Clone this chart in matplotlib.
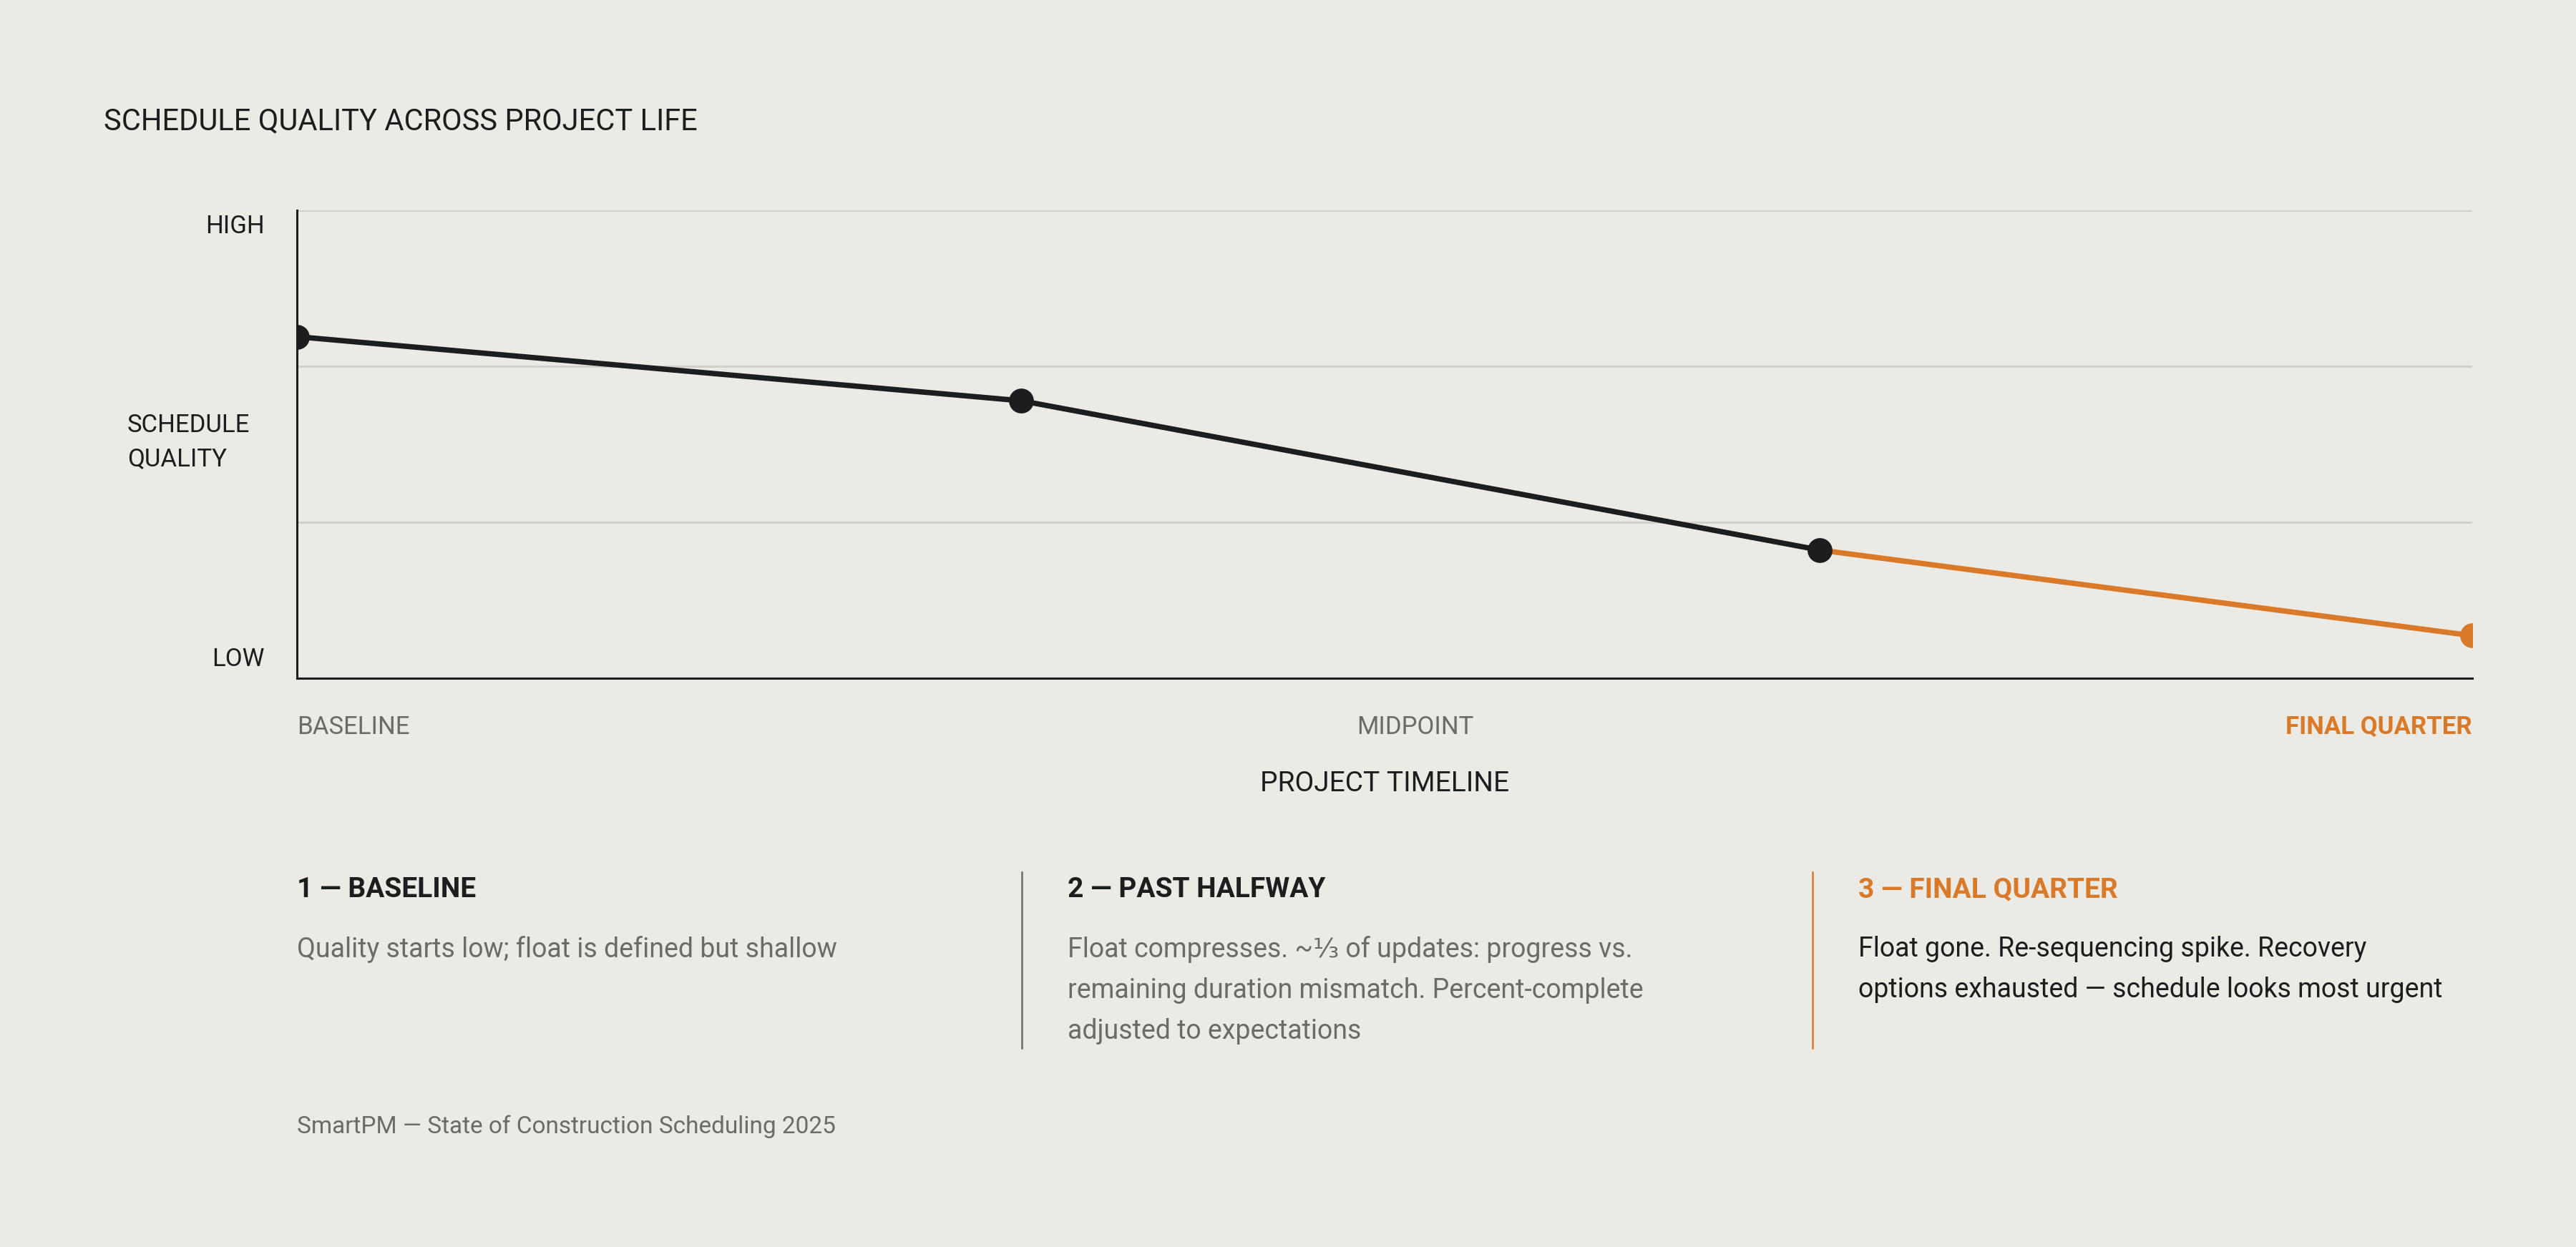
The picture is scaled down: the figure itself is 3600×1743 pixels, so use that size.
import matplotlib.pyplot as plt

# --- data -------------------------------------------------------------
stage_x = [0, 33.3, 70, 100]          # position along project timeline
quality = [73, 59.3, 27.4, 9.1]        # schedule quality (0 = low, 100 = high)
gridlines = [100 / 3, 200 / 3, 100]

x_labels = ["BASELINE", "MIDPOINT", "FINAL QUARTER"]
x_label_pos = [0, 51.4, 100]

notes_head = ["1 — BASELINE", "2 — PAST HALFWAY", "3 — FINAL QUARTER"]
notes_body = [
    "Quality starts low; float is defined but shallow",
    "Float compresses. ~⅓ of updates: progress vs.\nremaining duration mismatch. Percent-complete\nadjusted to expectations",
    "Float gone. Re-sequencing spike. Recovery\noptions exhausted — schedule looks most urgent",
]

# --- style ------------------------------------------------------------
BG = "#ebeae5"
INK = "#1c1d1f"
GREY = "#6b6b67"
ORANGE = "#d97a2b"
GRID = "#d0cfca"

plt.rcParams["font.family"] = ["Roboto", "DejaVu Sans"]

W, H, DPI = 3600, 1743, 200
fig = plt.figure(figsize=(W / DPI, H / DPI), dpi=DPI, facecolor=BG)

# main chart
ax = fig.add_axes([415 / W, 1 - 948 / H, 3040 / W, 654 / H], facecolor=BG)
ax.set_xlim(0, 100)
ax.set_ylim(0, 100)
for s in ["top", "right"]:
    ax.spines[s].set_visible(False)
for s in ["left", "bottom"]:
    ax.spines[s].set_color(INK)
    ax.spines[s].set_linewidth(1.1)
ax.set_yticks(gridlines)
ax.set_xticks([])
ax.tick_params(axis="y", length=0, labelleft=False)
ax.grid(axis="y", color=GRID, linewidth=1.0)
ax.set_axisbelow(True)

# black path up to the final-quarter point, orange after
ax.plot(stage_x[2:], quality[2:], color=ORANGE, lw=2.7, solid_capstyle="butt", zorder=3)
ax.plot(stage_x[3:], quality[3:], "o", color=ORANGE, ms=11.5, zorder=4)
ax.plot(stage_x[:3], quality[:3], color=INK, lw=2.7, marker="o", ms=11.5, zorder=5)

# y-axis wording
ytr = ax.get_yaxis_transform()
ax.text(-0.015, 96.5, "HIGH", transform=ytr, ha="right", va="center", fontsize=12.5, color=INK)
ax.text(-0.015, 4, "LOW", transform=ytr, ha="right", va="center", fontsize=12.5, color=INK)
ax.text(-0.078, 50.5, "SCHEDULE\nQUALITY", transform=ytr, ha="left", va="center",
        fontsize=12.5, color=INK, linespacing=1.55)

# x-axis wording
xtr = ax.get_xaxis_transform()
ax.text(x_label_pos[0], -0.105, x_labels[0], transform=xtr, ha="left", va="center",
        fontsize=12.5, color=GREY)
ax.text(x_label_pos[1], -0.105, x_labels[1], transform=xtr, ha="center", va="center",
        fontsize=12.5, color=GREY)
ax.text(x_label_pos[2], -0.105, x_labels[2], transform=xtr, ha="right", va="center",
        fontsize=12.5, color=ORANGE, fontweight="bold")
ax.text(50, -0.225, "PROJECT TIMELINE", transform=xtr, ha="center", va="center",
        fontsize=14, color=INK)

# title
fig.text(145 / W, 1 - 170 / H, "SCHEDULE QUALITY ACROSS PROJECT LIFE",
         ha="left", va="center", fontsize=15, color=INK)

# notes under the chart
col_x = [415, 1492, 2597]
div_x = [1428, 2533]
div_col = [GREY, ORANGE]
head_col = [INK, INK, ORANGE]
body_col = [GREY, GREY, INK]

for x, c in zip(div_x, div_col):
    fig.add_artist(plt.Line2D([x / W, x / W], [1 - 1219 / H, 1 - 1465 / H],
                              color=c, lw=0.9, transform=fig.transFigure))

for i in range(3):
    fig.text(col_x[i] / W, 1 - 1244 / H, notes_head[i], ha="left", va="center",
             fontsize=14, fontweight="bold", color=head_col[i])
    fig.text(col_x[i] / W, 1 - 1308 / H, notes_body[i], ha="left", va="top",
             fontsize=13.5, color=body_col[i], linespacing=1.69)

fig.text(415 / W, 1 - 1575 / H, "SmartPM — State of Construction Scheduling 2025",
         ha="left", va="center", fontsize=12, color=GREY)

fig.savefig("out.png", dpi=DPI, facecolor=BG)
